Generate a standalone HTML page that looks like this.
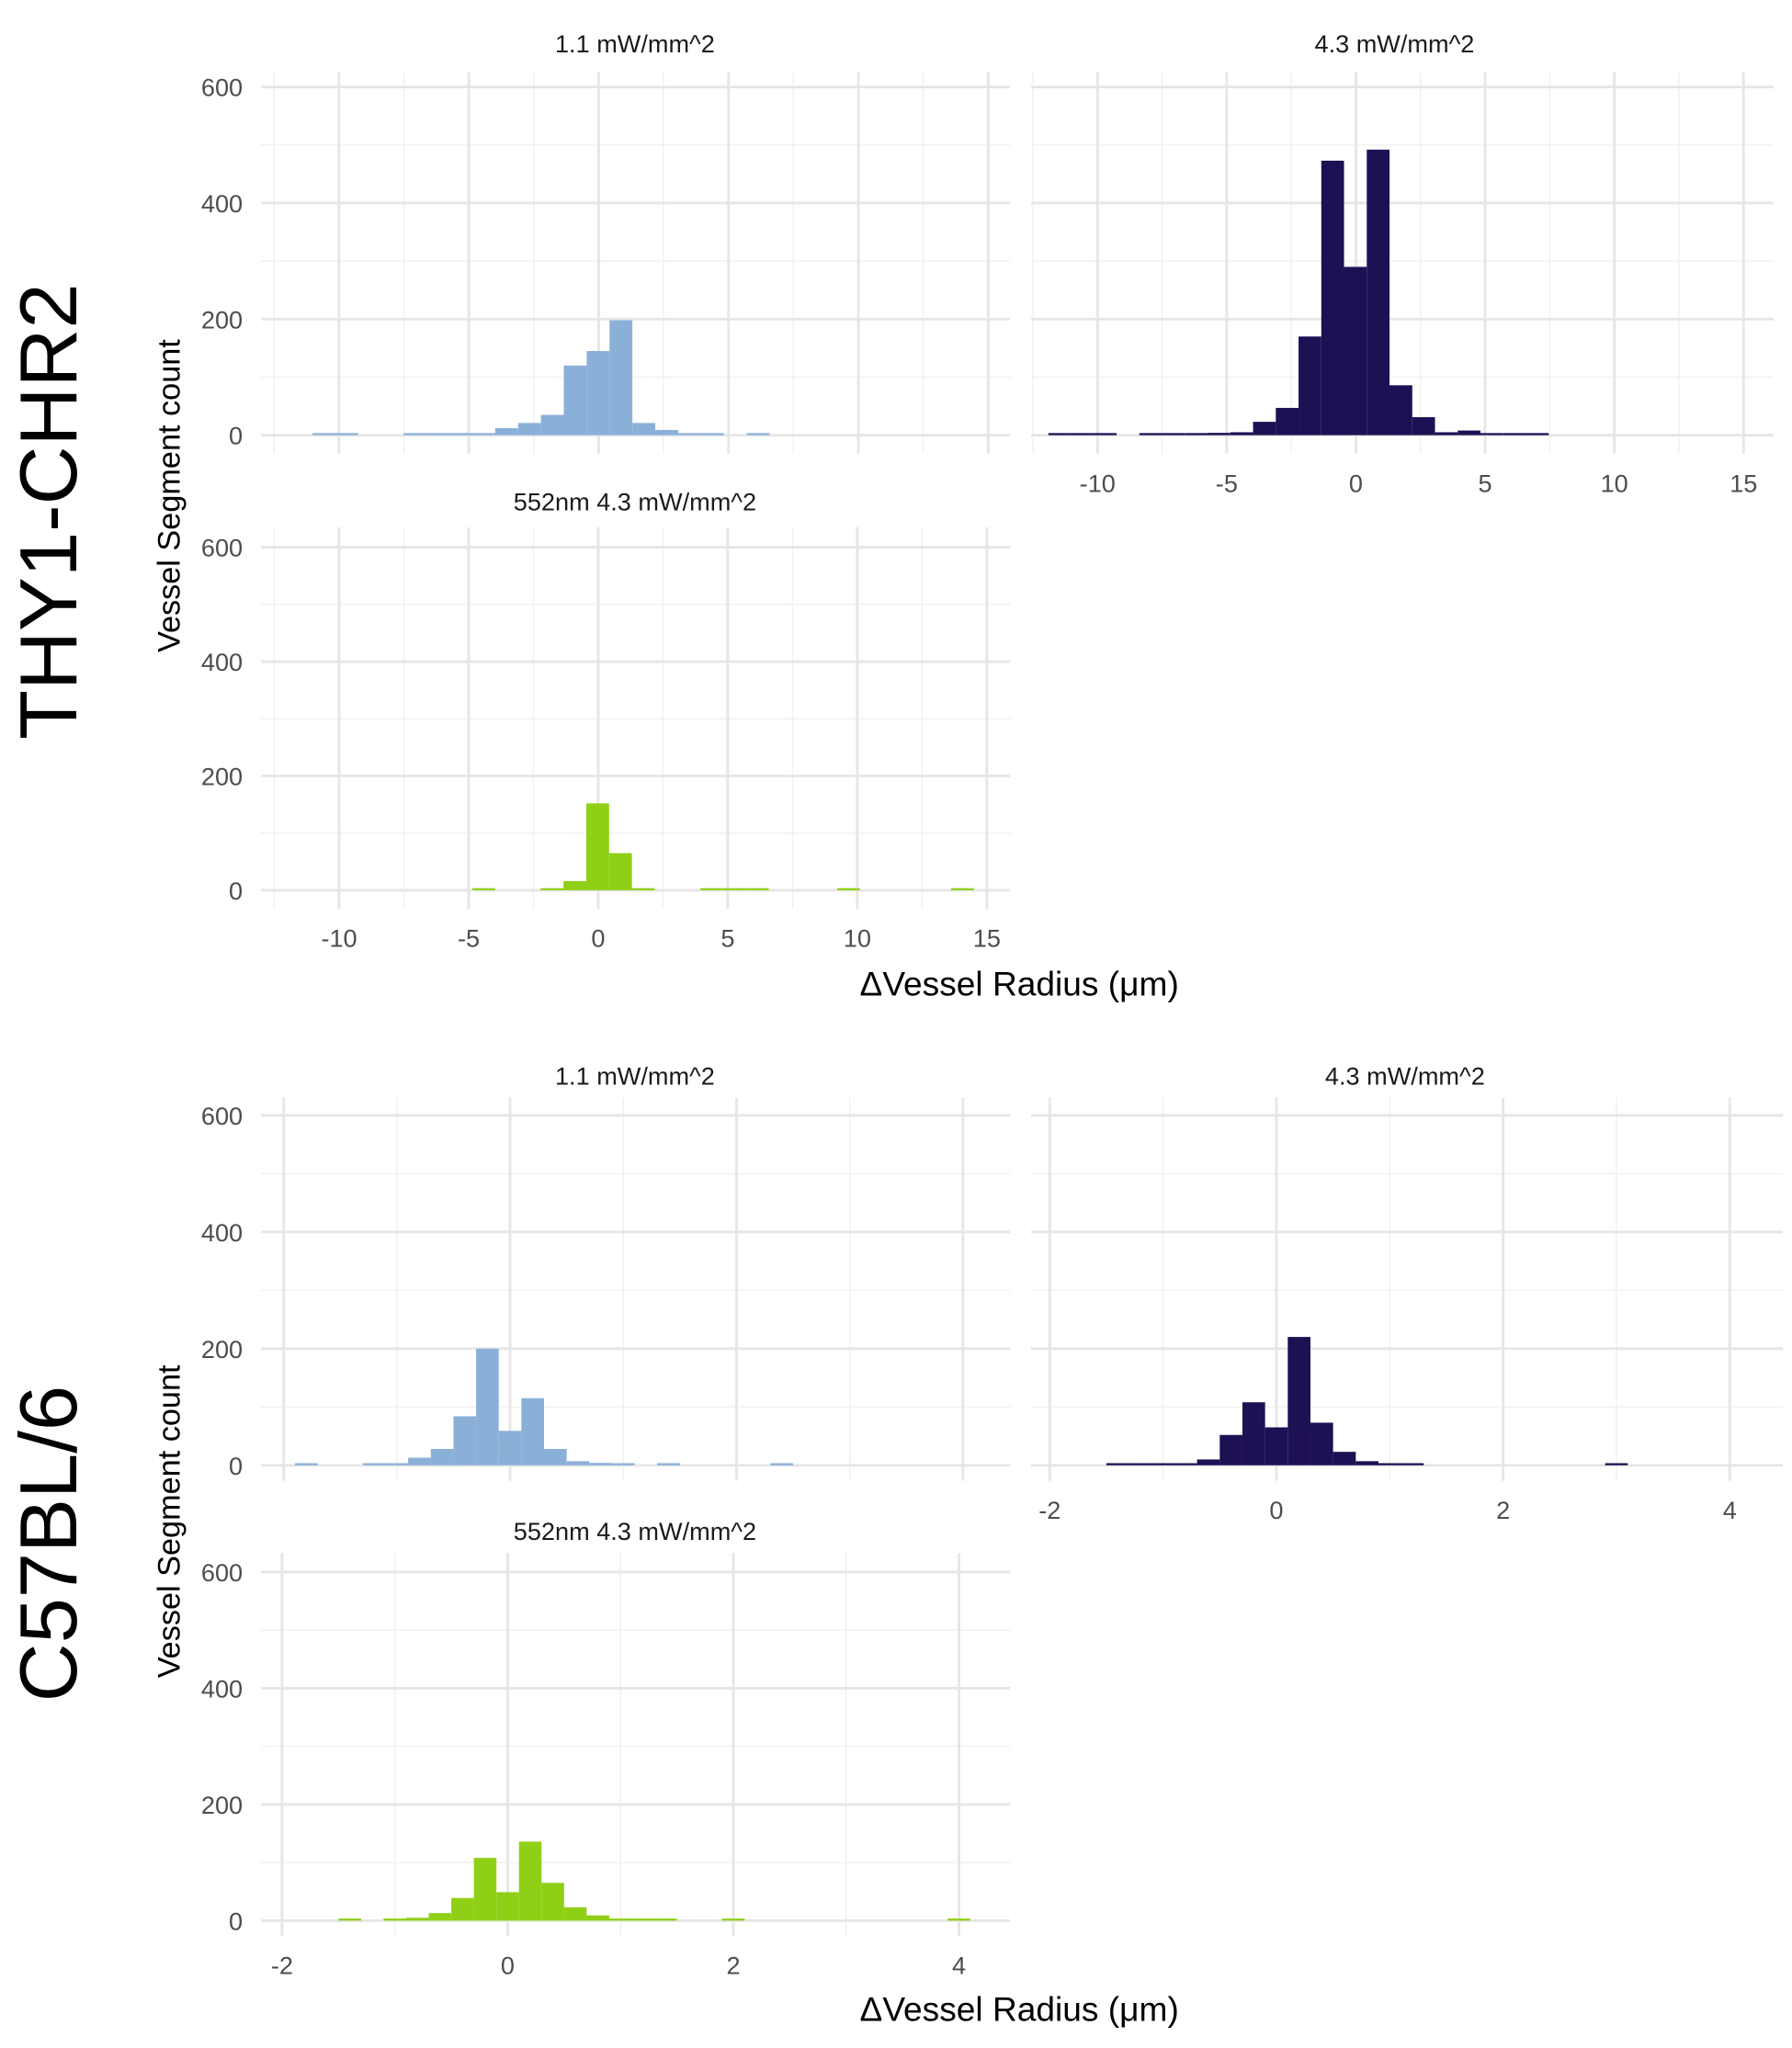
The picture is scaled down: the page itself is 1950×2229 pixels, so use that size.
<!DOCTYPE html>
<html><head><meta charset="utf-8"><style>
html,body{margin:0;padding:0;background:#fff;}
svg{display:block;font-family:"Liberation Sans",sans-serif;}
</style></head><body>
<svg id="fig" width="1950" height="2229" viewBox="0 0 1366 1561.5" xmlns="http://www.w3.org/2000/svg">
<rect width="1366" height="1561.5" fill="#fff"/>
<text transform="translate(58,390) rotate(-90)" text-anchor="middle" font-size="62" fill="#000">THY1-CHR2</text>
<text transform="translate(58,1177) rotate(-90)" text-anchor="middle" font-size="62" fill="#000">C57BL/6</text>
<text transform="translate(137,378) rotate(-90)" text-anchor="middle" font-size="24" fill="#000">Vessel Segment count</text>
<text transform="translate(137,1160) rotate(-90)" text-anchor="middle" font-size="24" fill="#000">Vessel Segment count</text>
<text x="777" y="759" text-anchor="middle" font-size="26" fill="#000">ΔVessel Radius (μm)</text>
<text x="777" y="1541" text-anchor="middle" font-size="26" fill="#000">ΔVessel Radius (μm)</text>
<g id="panels"></g>
</svg>
<script>
// bin settings
const topBinStart = -11.90, topBinWidth = 0.88;
const botBinStart = -1.9, botBinWidth = 0.2;
// counts per bin
const thy11 = [0,1,1,0,0,2,2,2,3,12,21,35,120,145,198,21,9,2,2,0,3];
const thy43 = [1,3,1,0,1,3,1,4,5,23,47,170,473,290,492,86,31,5,8,1,1,1];
const thy552 = [0,0,0,0,0,0,0,0,1,0,0,1,16,152,65,2,0,0,1,1,1,0,0,0,1,0,0,0,0,1];
const c5711 = [1,0,0,1,3,13,28,84,200,59,115,28,7,4,1,0,1,0,0,0,0,1];
const c5743 = [0,0,1,1,1,1,10,52,108,65,220,73,23,7,1,1,0,0,0,0,0,0,0,0,2];
const c57552 = [0,0,1,0,1,5,13,39,108,49,136,65,23,9,3,1,1,0,0,1,0,0,0,0,0,0,0,0,0,1];
const yTicks = [0,200,400,600];
const yMinor = [100,300,500];
const topXTicks = [-10,-5,0,5,10,15];
const topXMinor = [-12.5,-7.5,-2.5,2.5,7.5,12.5];
const botXTicks = [-2,0,2,4];
const botXMinor = [-1,1,3];

const NS = "http://www.w3.org/2000/svg";
const root = document.getElementById('panels');
function mk(tag, attrs, parent){
  const e = document.createElementNS(NS, tag);
  for (const k in attrs) e.setAttribute(k, attrs[k]);
  parent.appendChild(e); return e;
}
const panels = [
  {name:'thy1-1-1mw', title:'1.1 mW/mm^2', x1:199,x2:770,y1:55,y2:346,x0:456.3,ux:19.8,y0:331.8,uy:0.4425,data:thy11,bs:topBinStart,bw:topBinWidth,col:'#8BB0D8',xt:topXTicks,xm:topXMinor,showY:true,showX:false,tx:484,ty:40},
  {name:'thy1-4-3mw', title:'4.3 mW/mm^2', x1:786,x2:1352,y1:55,y2:346,x0:1033.6,ux:19.7,y0:331.8,uy:0.4425,data:thy43,bs:topBinStart,bw:topBinWidth,col:'#1D1053',xt:topXTicks,xm:topXMinor,showY:false,showX:true,tx:1063,ty:40},
  {name:'thy1-552nm', title:'552nm 4.3 mW/mm^2', x1:199,x2:770,y1:402,y2:693,x0:456,ux:19.75,y0:678.8,uy:0.436,data:thy552,bs:topBinStart,bw:topBinWidth,col:'#8FD016',xt:topXTicks,xm:topXMinor,showY:true,showX:true,tx:484,ty:389},
  {name:'c57-1-1mw', title:'1.1 mW/mm^2', x1:199,x2:770,y1:837,y2:1129,x0:388.8,ux:86.3,y0:1117.2,uy:0.4447,data:c5711,bs:botBinStart,bw:botBinWidth,col:'#8BB0D8',xt:botXTicks,xm:botXMinor,showY:true,showX:false,tx:484,ty:827},
  {name:'c57-4-3mw', title:'4.3 mW/mm^2', x1:786,x2:1359,y1:837,y2:1129,x0:973,ux:86.4,y0:1117.2,uy:0.4447,data:c5743,bs:botBinStart,bw:botBinWidth,col:'#1D1053',xt:botXTicks,xm:botXMinor,showY:false,showX:true,tx:1071,ty:827},
  {name:'c57-552nm', title:'552nm 4.3 mW/mm^2', x1:199,x2:770,y1:1184,y2:1476,x0:387,ux:86,y0:1464.4,uy:0.443,data:c57552,bs:botBinStart,bw:botBinWidth,col:'#8FD016',xt:botXTicks,xm:botXMinor,showY:true,showX:true,tx:484,ty:1174}
];
panels.forEach(p=>{
  const g = mk('g',{},root);
  
  
  const X = v => p.x0 + v*p.ux;
  const Y = c => p.y0 - c*p.uy;
  yMinor.forEach(t=>{ const l=mk('line',{x1:p.x1,x2:p.x2,y1:Y(t),y2:Y(t),stroke:'#f0f0f0','stroke-width':1},g);
     });
  p.xm.forEach(t=>{ const l=mk('line',{x1:X(t),x2:X(t),y1:p.y1,y2:p.y2,stroke:'#f0f0f0','stroke-width':1},g);
     });
  yTicks.forEach(t=>{ const l=mk('line',{x1:p.x1,x2:p.x2,y1:Y(t),y2:Y(t),stroke:'#e6e6e6','stroke-width':2},g);
     });
  p.xt.forEach(t=>{ const l=mk('line',{x1:X(t),x2:X(t),y1:p.y1,y2:p.y2,stroke:'#e6e6e6','stroke-width':2},g);
     });
  p.data.forEach((c,i)=>{
    if(c<=0) return;
    const xa = X(p.bs + i*p.bw), xb = X(p.bs + (i+1)*p.bw);
    const h = Math.max(c*p.uy, 1.6);
    const r = mk('rect',{x:xa,y:p.y0-h,width:xb-xa,height:h,fill:p.col},g);
    
    
  });
  const tt = mk('text',{x:p.tx,y:p.ty,'text-anchor':'middle','font-size':19,fill:'#1a1a1a'},g);
  tt.textContent = p.title;
  
  
  if(p.showY) yTicks.forEach(t=>{
    const e = mk('text',{x:185,y:Y(t)+7,'text-anchor':'end','font-size':19,fill:'#4d4d4d'},g);
    e.textContent = t;
    
    
  });
  if(p.showX) p.xt.forEach(t=>{
    const e = mk('text',{x:X(t),y:p.y2+29,'text-anchor':'middle','font-size':19,fill:'#4d4d4d'},g);
    e.textContent = t;
    
    
  });
});
</script>
</body></html>
